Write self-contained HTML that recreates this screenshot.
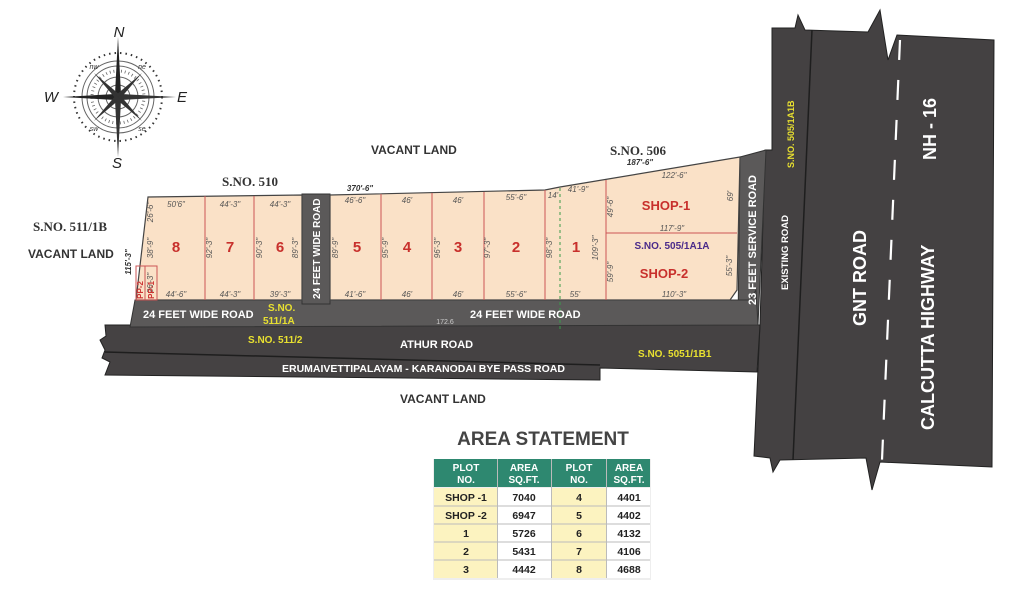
<!DOCTYPE html>
<html><head><meta charset="utf-8"><style>
html,body{margin:0;padding:0;background:#fff;width:1024px;height:600px;overflow:hidden}
svg{display:block}
text{font-family:"Liberation Sans",sans-serif}
.s{font-family:"Liberation Serif",serif;font-weight:bold;fill:#333}
.d{font-size:8px;fill:#555;font-style:italic}
.n{font-size:15px;fill:#c8302c;font-weight:bold}
.w{fill:#fff;font-weight:bold}
.y{fill:#e8e030;font-weight:bold}
</style></head><body>
<svg width="1024" height="600" viewBox="0 0 1024 600" xmlns="http://www.w3.org/2000/svg">
<polygon points="772,28 795,28 798,15 805,30 868,32 880,10 888,60 897,35 994,40 992,467 880,462 872,490 866,458 780,460 773,472 770,458 754,456 760,325 765,150 772,150" fill="#444142" stroke="#222" stroke-width="1"/>
<line x1="812" y1="30" x2="793" y2="460" stroke="#1e1e1e" stroke-width="1.5"/>
<line x1="900" y1="40" x2="882" y2="460" stroke="#fff" stroke-width="2.2" stroke-dasharray="20,20"/>
<polygon points="740,157 766,150 758,325 738,325" fill="#5b5959" stroke="#333" stroke-width="1"/>
<polygon points="105,325 760,325 757,372 600,368 600,380 105,375 110,362 102,358 105,350 100,340 106,336" fill="#454243" stroke="#222" stroke-width="1"/>
<line x1="105" y1="352" x2="600" y2="365" stroke="#1e1e1e" stroke-width="1.5"/>
<polygon points="135,300 750,300 756,290 758,325 130,327" fill="#5b5959" stroke="#333" stroke-width="1"/>
<rect x="302" y="194" width="28" height="110" fill="#5b5959" stroke="#333"/>
<polygon points="148,197 302,195 302,300 136,300" fill="#fae1c7" stroke="#444" stroke-width="1.2"/>
<polygon points="330,195 545,190 560,187 740,157 737,290 730,300 330,300" fill="#fae1c7" stroke="#444" stroke-width="1.2"/>
<g stroke="#c55" stroke-width="1">
<line x1="205" y1="196" x2="205" y2="300"/><line x1="254" y1="196" x2="254" y2="300"/>
<line x1="381" y1="194" x2="381" y2="300"/><line x1="432" y1="193" x2="432" y2="300"/>
<line x1="484" y1="192" x2="484" y2="300"/><line x1="545" y1="190" x2="545" y2="300"/>
<line x1="606" y1="180" x2="606" y2="300"/><line x1="606" y1="233" x2="737" y2="233"/>
<rect x="136" y="266" width="9" height="34" fill="none"/><rect x="145" y="266" width="12" height="34" fill="none"/>
</g>
<line x1="560" y1="188" x2="560" y2="330" stroke="#3a9a4a" stroke-width="1" stroke-dasharray="3,3"/>
<g class="n" text-anchor="middle">
<text x="176" y="252">8</text><text x="230" y="252">7</text><text x="280" y="252">6</text>
<text x="357" y="252">5</text><text x="407" y="252">4</text><text x="458" y="252">3</text>
<text x="516" y="252">2</text><text x="576" y="252">1</text>
<text x="666" y="210" font-size="13">SHOP-1</text><text x="664" y="278" font-size="13">SHOP-2</text>
</g>
<text x="672" y="249" text-anchor="middle" font-size="10" font-weight="bold" fill="#4a2a8a">S.NO. 505/1A1A</text>
<g class="d" text-anchor="middle">
<text x="176" y="207">50'6"</text><text x="230" y="207">44'-3"</text><text x="280" y="207">44'-3"</text>
<text x="176" y="297">44'-6"</text><text x="230" y="297">44'-3"</text><text x="280" y="297">39'-3"</text>
<text x="355" y="203">46'-6"</text><text x="407" y="203">46'</text><text x="458" y="203">46'</text><text x="516" y="200">55'-6"</text><text x="553" y="198">14'</text><text x="578" y="192">41'-9"</text><text x="674" y="178">122'-6"</text>
<text x="355" y="297">41'-6"</text><text x="407" y="297">46'</text><text x="458" y="297">46'</text><text x="516" y="297">55'-6"</text><text x="575" y="297">55'</text><text x="674" y="297">110'-3"</text><text x="672" y="231">117'-9"</text>
<text x="360" y="191" font-weight="bold" fill="#333">370'-6"</text><text x="640" y="165" font-weight="bold" fill="#333">187'-6"</text>
<text x="445" y="324" font-style="normal" font-size="7" fill="#ccc">172.6</text>
</g>
<g class="d" text-anchor="middle">
<text transform="translate(153,212) rotate(-90)">26'-6"</text><text transform="translate(153,248) rotate(-90)">38'-9"</text><text transform="translate(153,283) rotate(-90)">26'-3"</text>
<text transform="translate(212,248) rotate(-90)">92'-3"</text><text transform="translate(262,248) rotate(-90)">90'-3"</text><text transform="translate(298,248) rotate(-90)">89'-3"</text>
<text transform="translate(338,248) rotate(-90)">89'-9"</text><text transform="translate(388,248) rotate(-90)">95'-9"</text><text transform="translate(440,248) rotate(-90)">96'-3"</text><text transform="translate(490,248) rotate(-90)">97'-3"</text><text transform="translate(552,248) rotate(-90)">98'-3"</text><text transform="translate(598,248) rotate(-90)">109'-3"</text>
<text transform="translate(613,207) rotate(-90)">49'-6"</text><text transform="translate(613,272) rotate(-90)">59'-9"</text><text transform="translate(733,196) rotate(-90)">69'</text><text transform="translate(732,266) rotate(-90)">55'-3"</text>
<text transform="translate(131,262) rotate(-90)" font-weight="bold" fill="#333">115'-3"</text>
</g>
<g font-size="8" fill="#c33" font-weight="bold" text-anchor="middle"><text transform="translate(143,290) rotate(-90)">PP-2</text><text transform="translate(154,290) rotate(-90)">PP-1</text></g>
<g font-size="11" class="w">
<text x="143" y="318">24 FEET WIDE ROAD</text><text x="470" y="318">24 FEET WIDE ROAD</text>
<text x="400" y="348">ATHUR ROAD</text>
<text x="282" y="372" font-size="10.5">ERUMAIVETTIPALAYAM - KARANODAI BYE PASS ROAD</text>
<text transform="translate(320,299) rotate(-90)" font-size="10">24 FEET WIDE ROAD</text>
<text transform="translate(756,305) rotate(-90)">23 FEET SERVICE ROAD</text>
<text transform="translate(788,290) rotate(-90)" font-size="9.5">EXISTING ROAD</text>
<text transform="translate(866,326) rotate(-90)" font-size="18">GNT ROAD</text>
<text transform="translate(934,430) rotate(-90)" font-size="18">CALCUTTA HIGHWAY</text>
<text transform="translate(936,160) rotate(-90)" font-size="18">NH - 16</text>
</g>
<g class="y" font-size="10">
<text x="268" y="311">S.NO.</text><text x="263" y="324">511/1A</text>
<text x="248" y="343">S.NO. 511/2</text><text x="638" y="357">S.NO. 5051/1B1</text>
<text transform="translate(794,168) rotate(-90)" font-size="9">S.NO. 505/1A1B</text>
</g>
<g font-size="12" font-weight="bold" fill="#333">
<text x="371" y="154">VACANT LAND</text><text x="400" y="403">VACANT LAND</text>
<text x="28" y="258">VACANT LAND</text>
</g>
<text x="222" y="186" class="s" font-size="13">S.NO. 510</text>
<text x="610" y="155" class="s" font-size="13">S.NO. 506</text>
<text x="33" y="231" class="s" font-size="13">S.NO. 511/1B</text>
<g transform="translate(118,97)">
<circle r="44" fill="none" stroke="#333" stroke-width="2" stroke-dasharray="1.5,4"/>
<circle r="36" fill="none" stroke="#666"/><circle r="31" fill="none" stroke="#666"/>
<circle r="26" fill="none" stroke="#666" stroke-width="3" stroke-dasharray="0.8,3"/>
<circle r="20" fill="none" stroke="#666"/><circle r="12" fill="none" stroke="#666"/>
<polygon points="0,-60 3,-3 0,0 -3,-3" fill="#222"/><polygon points="0,60 3,3 0,0 -3,3" fill="#333"/>
<polygon points="-55,0 -3,-3 0,0 -3,3" fill="#222"/><polygon points="58,0 3,-3 0,0 3,3" fill="#333"/>
<polygon points="-24,-24 2,-2 0,0 -2,2" fill="#333"/><polygon points="24,-24 2,2 0,0 -2,-2" fill="#333"/>
<polygon points="24,24 -2,2 0,0 2,-2" fill="#333"/><polygon points="-24,24 -2,-2 0,0 2,2" fill="#333"/>
<g font-family="Liberation Serif,serif" font-style="italic" font-size="7" fill="#333" text-anchor="middle">
<text x="-24" y="-28">nw</text><text x="24" y="-28">ne</text><text x="-24" y="34">sw</text><text x="24" y="34">se</text></g>
<g font-family="Liberation Serif,serif" font-style="italic" font-size="15" fill="#222" text-anchor="middle">
<text x="1" y="-60">N</text><text x="-1" y="71">S</text><text x="-67" y="5">W</text><text x="64" y="5">E</text></g>
</g>
<text x="543" y="445" text-anchor="middle" font-size="19" font-weight="bold" fill="#444">AREA STATEMENT</text>
<rect x="433" y="459" width="218" height="121" fill="#eee"/>
<rect x="434" y="459" width="216" height="28" fill="#2e8870"/>
<g fill="#fcf3c0"><rect x="434" y="488" width="63" height="90"/><rect x="552" y="488" width="54" height="90"/></g>
<g fill="#fff"><rect x="498" y="488" width="53" height="90"/><rect x="607" y="488" width="43" height="90"/></g>
<g stroke="#bbb" stroke-width="1"><line x1="434" y1="506" x2="650" y2="506"/><line x1="434" y1="524" x2="650" y2="524"/><line x1="434" y1="542" x2="650" y2="542"/><line x1="434" y1="560" x2="650" y2="560"/>
<line x1="497.5" y1="459" x2="497.5" y2="578"/><line x1="551.5" y1="459" x2="551.5" y2="578"/><line x1="606.5" y1="459" x2="606.5" y2="578"/></g>
<g font-size="10" font-weight="bold" fill="#fff" text-anchor="middle">
<text x="466" y="471">PLOT</text><text x="466" y="483">NO.</text><text x="524" y="471">AREA</text><text x="524" y="483">SQ.FT.</text>
<text x="579" y="471">PLOT</text><text x="579" y="483">NO.</text><text x="629" y="471">AREA</text><text x="629" y="483">SQ.FT.</text></g>
<g font-size="10.5" font-weight="bold" fill="#222" text-anchor="middle">
<text x="466" y="501">SHOP -1</text><text x="524" y="501">7040</text><text x="579" y="501">4</text><text x="629" y="501">4401</text>
<text x="466" y="519">SHOP -2</text><text x="524" y="519">6947</text><text x="579" y="519">5</text><text x="629" y="519">4402</text>
<text x="466" y="537">1</text><text x="524" y="537">5726</text><text x="579" y="537">6</text><text x="629" y="537">4132</text>
<text x="466" y="555">2</text><text x="524" y="555">5431</text><text x="579" y="555">7</text><text x="629" y="555">4106</text>
<text x="466" y="573">3</text><text x="524" y="573">4442</text><text x="579" y="573">8</text><text x="629" y="573">4688</text></g>
</svg>
</body></html>
